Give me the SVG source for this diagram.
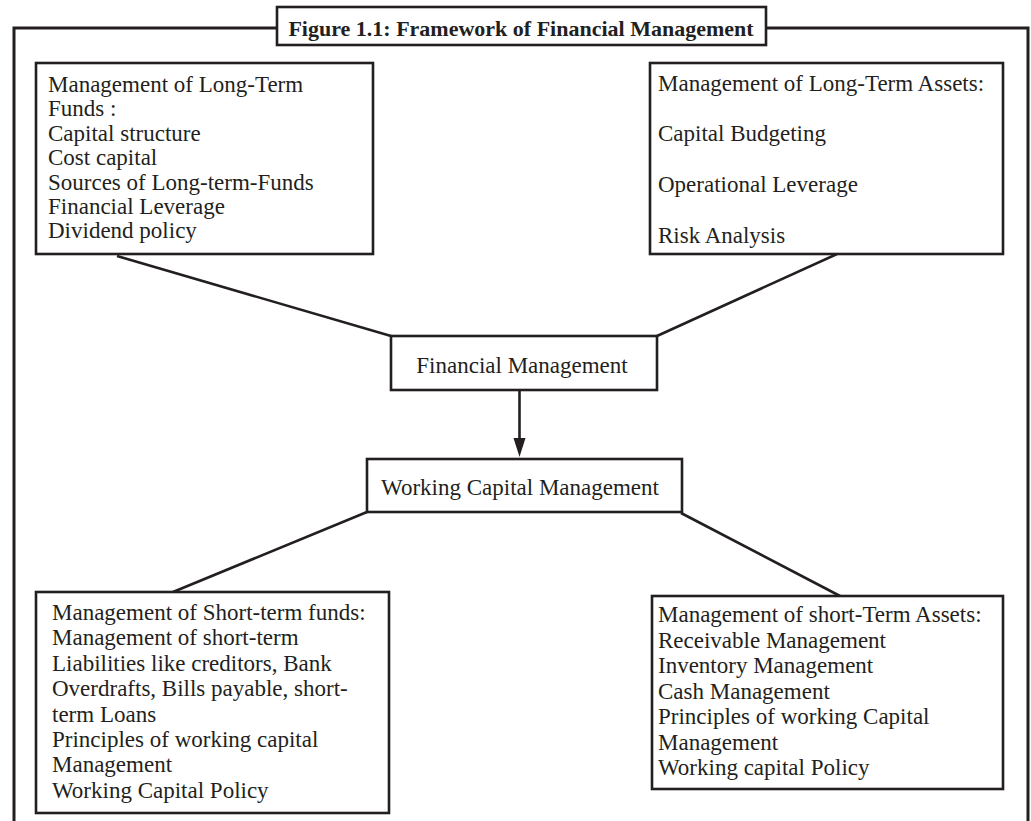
<svg xmlns="http://www.w3.org/2000/svg" width="1031" height="821" viewBox="0 0 1031 821">
<style>
.box{fill:#fff;stroke:#231f20;stroke-width:2.6}
.t{font-family:"Liberation Serif","Times New Roman",serif;font-size:23px;fill:#231f20}
.ttl{font-family:"Liberation Serif","Times New Roman",serif;font-size:22px;font-weight:bold;fill:#231f20}
.ln{stroke:#231f20;stroke-width:2.6;fill:none}
.frame{stroke:#231f20;stroke-width:3;fill:none}
</style>
<rect width="1031" height="821" fill="#fff"/>
<g id="frame">
<path class="frame" d="M14,821 V28 H1028 V821"/>
</g>
<g id="title">
<rect class="box" x="277" y="7" width="489" height="38"/>
<text class="ttl" x="521" y="36" text-anchor="middle">Figure 1.1: Framework of Financial Management</text>
</g>
<g id="connectors">
<line class="ln" x1="117" y1="256" x2="391" y2="336"/>
<line class="ln" x1="837" y1="254" x2="657" y2="336"/>
<line class="ln" x1="367" y1="512" x2="173" y2="592"/>
<line class="ln" x1="681" y1="513" x2="840" y2="596"/>
<line class="ln" x1="519.5" y1="390" x2="519.5" y2="440"/>
<polygon points="519.5,457 513.5,438 525.5,438" fill="#231f20"/>
</g>
<g id="long-term-funds">
<rect class="box" x="36" y="63" width="337" height="191"/>
<text class="t" x="48" y="92">Management of Long-Term</text>
<text class="t" x="48" y="116">Funds :</text>
<text class="t" x="48" y="141">Capital structure</text>
<text class="t" x="48" y="165">Cost capital</text>
<text class="t" x="48" y="190">Sources of Long-term-Funds</text>
<text class="t" x="48" y="214">Financial Leverage</text>
<text class="t" x="48" y="238">Dividend policy</text>
</g>
<g id="long-term-assets">
<rect class="box" x="650" y="63" width="353" height="191"/>
<text class="t" x="658" y="91">Management of Long-Term Assets:</text>
<text class="t" x="658" y="141">Capital Budgeting</text>
<text class="t" x="658" y="192">Operational Leverage</text>
<text class="t" x="658" y="243">Risk Analysis</text>
</g>
<g id="financial-management">
<rect class="box" x="391" y="336" width="266" height="54"/>
<text class="t" x="522" y="373" text-anchor="middle">Financial Management</text>
</g>
<g id="working-capital-management">
<rect class="box" x="367" y="459" width="315" height="53"/>
<text class="t" x="520" y="495" text-anchor="middle">Working Capital Management</text>
</g>
<g id="short-term-funds">
<rect class="box" x="36" y="592" width="353" height="221"/>
<text class="t" x="52" y="620">Management of Short-term funds:</text>
<text class="t" x="52" y="645.4">Management of short-term</text>
<text class="t" x="52" y="670.8">Liabilities like creditors, Bank</text>
<text class="t" x="52" y="696.2">Overdrafts, Bills payable, short-</text>
<text class="t" x="52" y="721.6">term Loans</text>
<text class="t" x="52" y="747">Principles of working capital</text>
<text class="t" x="52" y="772.4">Management</text>
<text class="t" x="52" y="797.8">Working Capital Policy</text>
</g>
<g id="short-term-assets">
<rect class="box" x="652" y="596" width="351" height="193"/>
<text class="t" x="658" y="622">Management of short-Term Assets:</text>
<text class="t" x="658" y="647.5">Receivable Management</text>
<text class="t" x="658" y="673">Inventory Management</text>
<text class="t" x="658" y="698.5">Cash Management</text>
<text class="t" x="658" y="724">Principles of working Capital</text>
<text class="t" x="658" y="749.5">Management</text>
<text class="t" x="658" y="775">Working capital Policy</text>
</g>
</svg>
